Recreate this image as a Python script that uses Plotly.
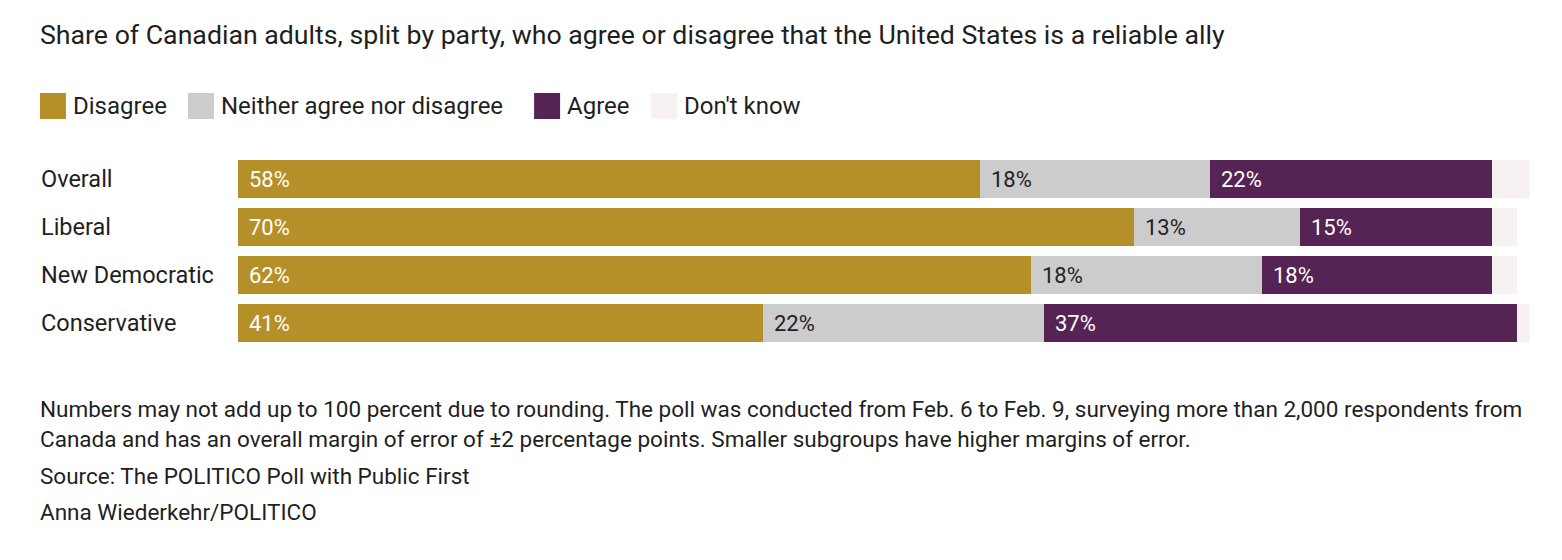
import plotly.graph_objects as go

# data
groups = ["Overall", "Liberal", "New Democratic", "Conservative"]
series = ["Disagree", "Neither agree nor disagree", "Agree", "Don't know"]
disagree = [58, 70, 62, 41]
neither = [18, 13, 18, 22]
agree = [22, 15, 18, 37]
dont_know = [3, 2, 2, 1]
values = [disagree, neither, agree, dont_know]

colors = ["#b58f28", "#cccccc", "#552354", "#f7f1f1"]
label_colors = ["#ffffff", "#1f1f1f", "#ffffff", None]

title = ("Share of Canadian adults, split by party, who agree or disagree "
         "that the United States is a reliable ally")
notes = [
    "Numbers may not add up to 100 percent due to rounding. The poll was conducted "
    "from Feb. 6 to Feb. 9, surveying more than 2,000 respondents from",
    "Canada and has an overall margin of error of ±2 percentage points. "
    "Smaller subgroups have higher margins of error.",
    "Source: The POLITICO Poll with Public First",
    "Anna Wiederkehr/POLITICO",
]

# page body adds an 8px offset, so layout is in page pixels minus OFF
OFF = 8
W, H = 1562, 560
L, T = 238 - OFF, 155 - OFF
PW = 102 * 12.79
R = W - L - PW
PH = 192
B = H - T - PH
FONT = "Roboto"
INK = "#1f1f1f"


def px(x):
    return (x - OFF - L) / PW


def py(y):
    return (T + PH - (y - OFF)) / PH


fig = go.Figure()

for name, vals, col in zip(series, values, colors):
    fig.add_trace(go.Bar(
        y=groups, x=vals, name=name, orientation="h",
        marker=dict(color=col, line=dict(width=0)),
        hoverinfo="skip", showlegend=False))

annotations = []
# segment labels
for g_i, g in enumerate(groups):
    start = 0
    for s_i, vals in enumerate(values):
        v = vals[g_i]
        if label_colors[s_i]:
            annotations.append(dict(
                x=start, y=g, xref="x", yref="y", text=f"{v}%",
                xanchor="left", yanchor="middle", xshift=9, showarrow=False,
                font=dict(family=FONT, size=22, color=label_colors[s_i])))
        start += v

# category labels
for g in groups:
    annotations.append(dict(
        x=px(39), y=g, xref="paper", yref="y", text=g,
        xanchor="left", yanchor="middle", showarrow=False,
        font=dict(family=FONT, size=23.5, color=INK)))

# title
annotations.append(dict(
    x=px(38), y=py(35), xref="paper", yref="paper", text=title,
    xanchor="left", yanchor="middle", showarrow=False,
    font=dict(family=FONT, size=26.7, color=INK)))

# legend
shapes = []
leg_x = [40, 188, 534, 651]
for lx, name, col in zip(leg_x, series, colors):
    shapes.append(dict(
        type="rect", xref="paper", yref="paper",
        x0=px(lx), x1=px(lx + 26), y0=py(119), y1=py(93),
        fillcolor=col, line=dict(width=0)))
    annotations.append(dict(
        x=px(lx + 31), y=py(106), xref="paper", yref="paper", text=name,
        xanchor="left", yanchor="middle", showarrow=False,
        font=dict(family=FONT, size=24, color=INK)))

# footnotes
for ny, note in zip([409, 439, 476, 512], notes):
    annotations.append(dict(
        x=px(38), y=py(ny), xref="paper", yref="paper", text=note,
        xanchor="left", yanchor="middle", showarrow=False,
        font=dict(family=FONT, size=22.5, color=INK)))

fig.update_layout(
    barmode="stack", bargap=10 / 48,
    width=W, height=H,
    margin=dict(l=L, r=R, t=T, b=B, pad=0),
    paper_bgcolor="white", plot_bgcolor="white",
    xaxis=dict(range=[0, 102], visible=False, fixedrange=True),
    yaxis=dict(categoryorder="array", categoryarray=groups, autorange="reversed",
               showticklabels=False, showgrid=False, zeroline=False,
               fixedrange=True),
    annotations=annotations, shapes=shapes,
    font=dict(family=FONT, color=INK),
)

fig.write_html("out.html", config={"displayModeBar": False})
